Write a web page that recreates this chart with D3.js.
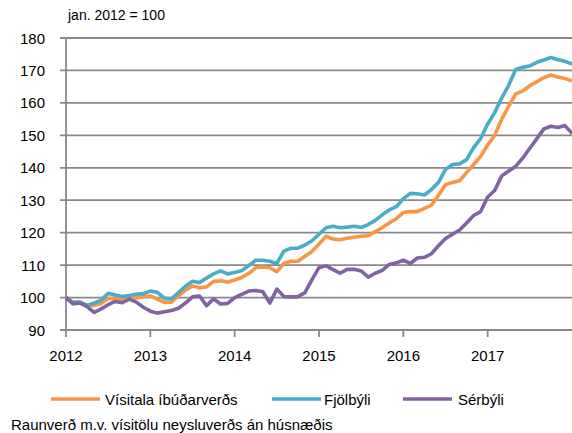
<!DOCTYPE html>
<html><head><meta charset="utf-8">
<script src="https://cdn.jsdelivr.net/npm/d3@7"></script>
<style>body{margin:0;background:#fff}svg{display:block}text{font-family:"Liberation Sans",Arial,sans-serif;fill:#000}</style>
</head><body><svg id="c" width="572" height="433"></svg>
<script>
// Monthly values, Jan 2012 .. Jan 2018 (index jan. 2012 = 100)
const yearLabels = ["2012","2013","2014","2015","2016","2017"];
const yTicks = [90,100,110,120,130,140,150,160,170,180];
const seriesNames = ["Vísitala íbúðarverðs","Fjölbýli","Sérbýli"];
const visitala = [100,98.5,98.6,97.6,97.6,98.2,99.7,99.7,99.4,99.8,99.9,100.3,
  100.5,99.5,98.5,98.6,100.5,102.3,103.6,103,103.3,105,105.2,104.7,
  105.4,106.2,107.4,109.2,109.4,109.2,108,110.5,111.2,111.2,112.7,114.2,
  116.5,118.9,118,117.8,118.3,118.6,118.9,119.1,120.3,121.6,123,124.3,
  126.2,126.5,126.5,127.5,128.5,131.5,134.8,135.5,136,138.5,141,143.5,
  147,150,155,159,162.8,163.7,165.3,166.5,167.8,168.6,168,167.5,166.8];
const fjolbyli = [100,98.5,98.6,97.6,98.3,99.2,101.3,100.8,100.3,100.6,101,101.2,
  102,101.6,99.8,99.6,101.5,103.5,105,104.6,106,107.3,108.2,107.3,
  107.7,108.3,109.8,111.5,111.5,111.2,110.5,114.3,115.2,115.2,116.2,117.5,
  119.5,121.5,122,121.5,121.7,122,121.6,122.5,123.8,125.5,127,128,
  130.5,132.1,132,131.6,133.3,135.5,139.5,141,141.2,142.5,146.2,149,
  153.5,157,161.5,165.5,170.3,171,171.4,172.5,173.2,174,173.3,172.8,172];
const serbyli = [100,98,98.3,97.2,95.4,96.5,97.8,98.8,98.4,99.5,98.6,97,
  95.8,95.2,95.6,96,96.7,98.3,100.2,100.5,97.5,99.6,98,98.2,
  100,101,102,102.2,101.8,98.3,102.6,100.3,100.2,100.3,101.5,105.5,
  109.2,109.8,108.6,107.5,108.7,108.7,108.2,106.3,107.5,108.4,110.2,110.7,
  111.5,110.5,112.2,112.4,113.5,116,118.2,119.5,120.8,123,125.3,126.5,
  131,133,137.5,139,140.5,143,146,149,152,152.8,152.4,153,150.6];
const colors = ["#F79646","#4BACC6","#8064A2"];

const svg = d3.select("#c");
const x = d3.scaleLinear().domain([0,72]).range([66,572]);
const y = d3.scaleLinear().domain([90,180]).range([330,38]);

// gridlines
svg.append("g").selectAll("line").data(yTicks).join("line")
  .attr("x1",60).attr("x2",572).attr("y1",d=>y(d)).attr("y2",d=>y(d))
  .attr("stroke","#898989").attr("stroke-width",1.8);
// y axis line
svg.append("line").attr("x1",66).attr("x2",66).attr("y1",y(180)).attr("y2",y(90))
  .attr("stroke","#898989").attr("stroke-width",1.8);
// y labels
svg.append("g").selectAll("text").data(yTicks).join("text")
  .attr("x",45).attr("y",d=>y(d)+5.5).attr("text-anchor","end")
  .style("font-size","15px").text(d=>d);
// x ticks
const xt = yearLabels.map((l,i)=>({l, m:i*12}));
svg.append("g").selectAll("line").data(xt).join("line")
  .attr("x1",d=>x(d.m)).attr("x2",d=>x(d.m)).attr("y1",330).attr("y2",337)
  .attr("stroke","#898989").attr("stroke-width",1.8);
svg.append("g").selectAll("text").data(xt).join("text")
  .attr("x",d=>x(d.m)).attr("y",361).attr("text-anchor","middle")
  .style("font-size","15px").text(d=>d.l);

// title
svg.append("text").attr("x",68).attr("y",20).style("font-size","14px").text("jan. 2012 = 100");

// lines
const line = d3.line().x((d,i)=>x(i)).y(d=>y(d));
[visitala,fjolbyli,serbyli].forEach((s,k)=>{
  svg.append("path").datum(s).attr("d",line).attr("fill","none")
    .attr("stroke",colors[k]).attr("stroke-width",3.6).attr("stroke-linejoin","round");
});

// legend
const lg = [{x:51,tx:105},{x:272,tx:324},{x:403,tx:458}];
lg.forEach((p,k)=>{
  svg.append("line").attr("x1",p.x).attr("x2",p.x+49).attr("y1",399).attr("y2",399)
    .attr("stroke",colors[k]).attr("stroke-width",3.6);
  svg.append("text").attr("x",p.tx).attr("y",404.5).style("font-size","15px").text(seriesNames[k]);
});
svg.append("text").attr("x",11).attr("y",430).style("font-size","15px")
  .text("Raunverð m.v. vísitölu neysluverðs án húsnæðis");
</script></body></html>
